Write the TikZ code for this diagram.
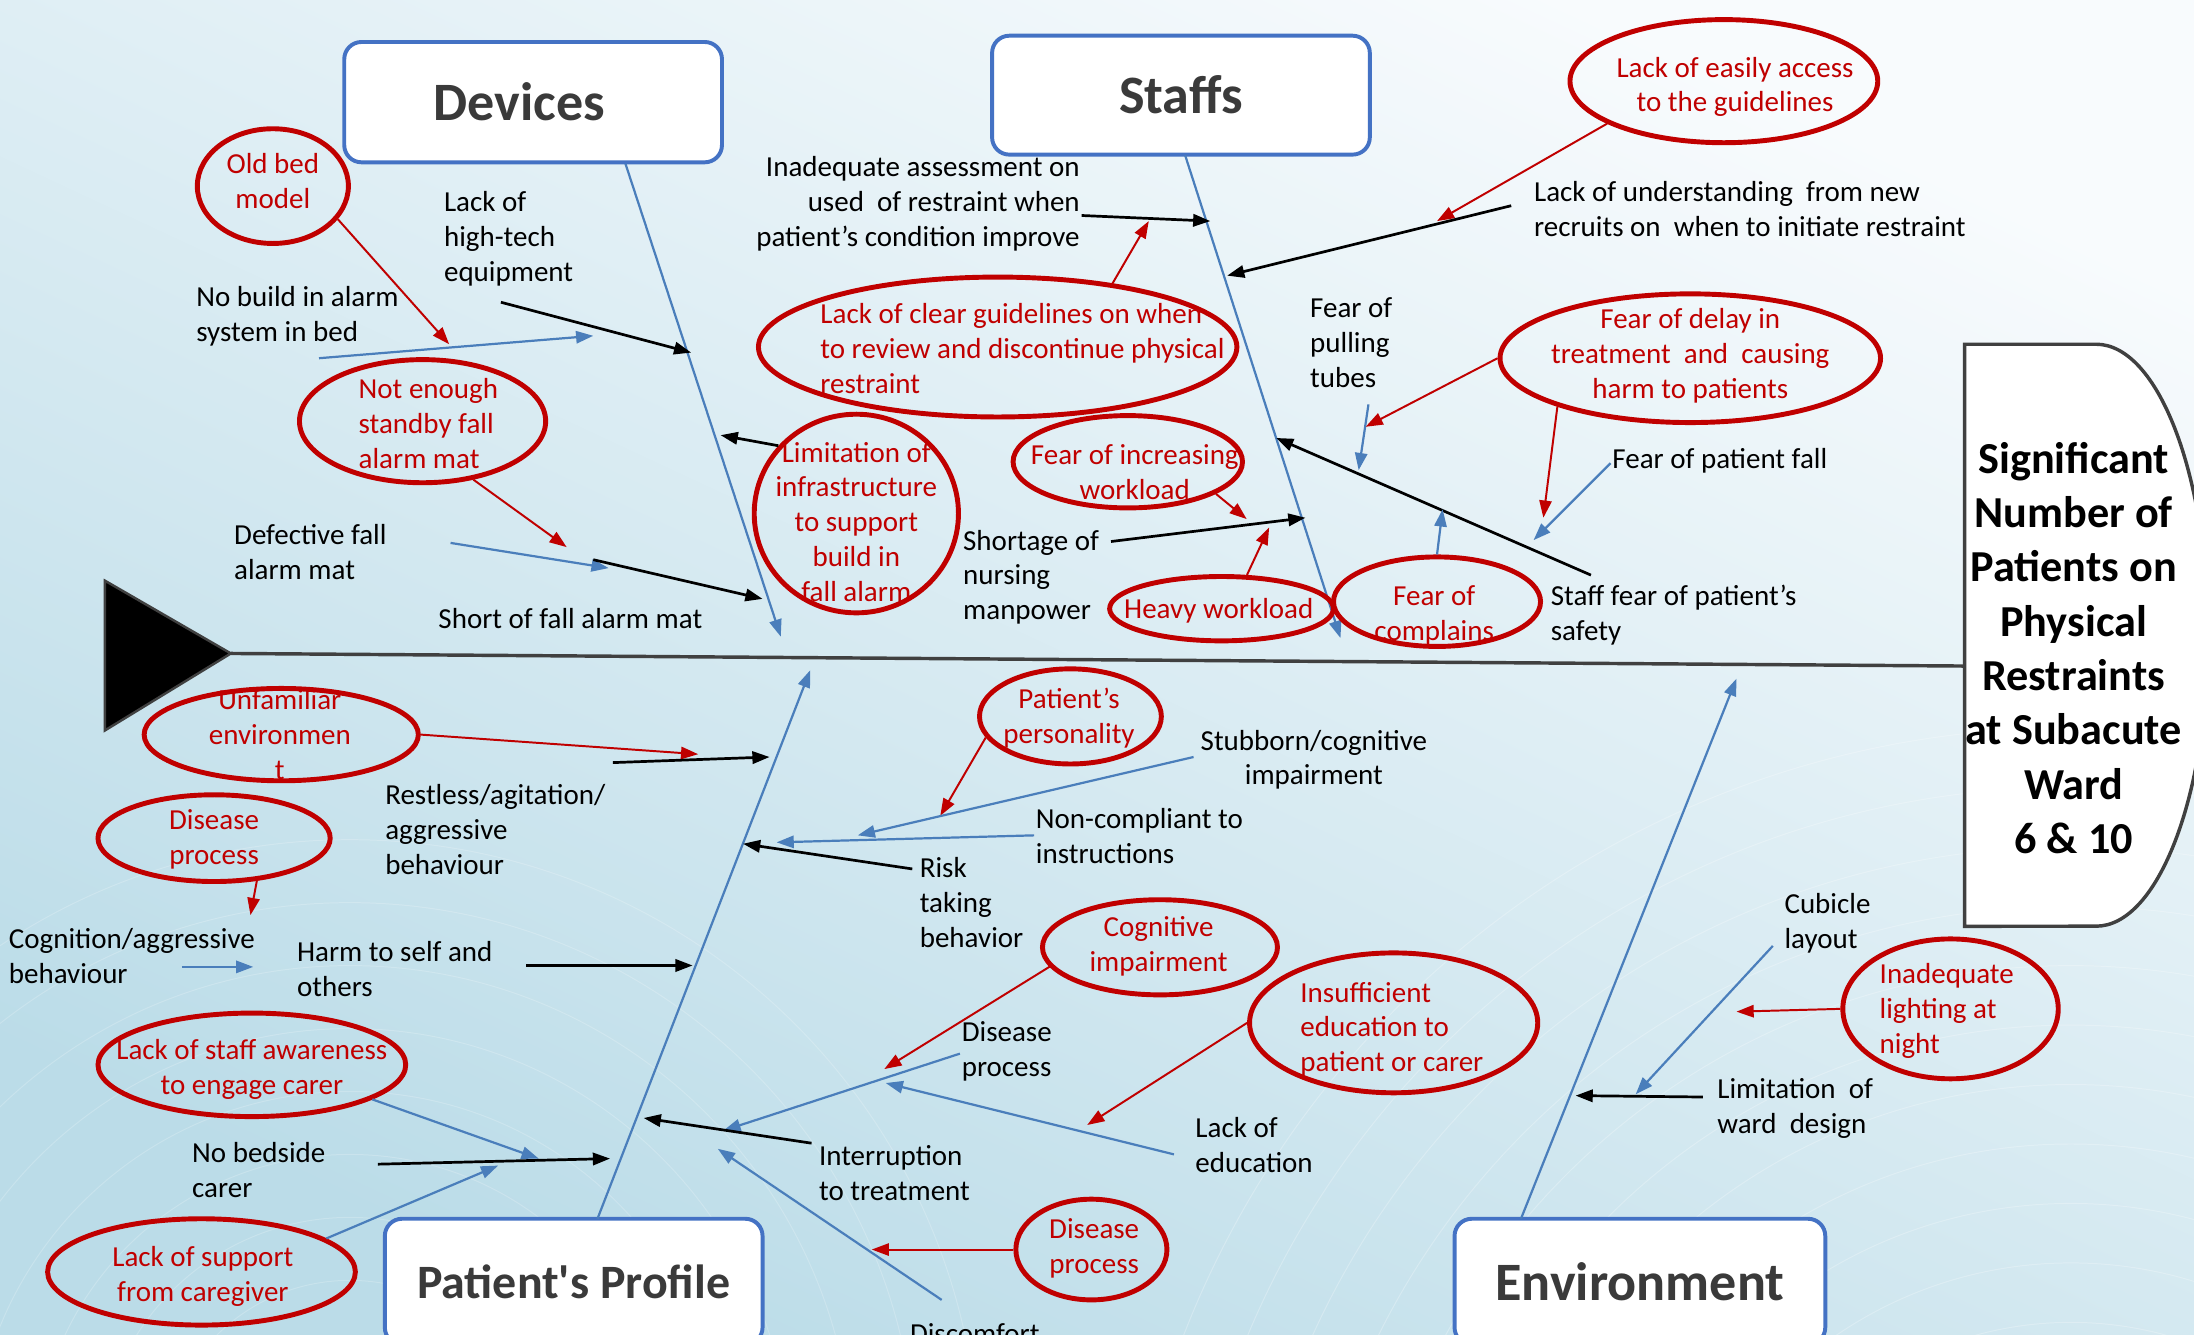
\documentclass[tikz,border=0pt]{standalone}
\usepackage{fontspec}
\setmainfont{Carlito}
\usetikzlibrary{arrows.meta,shapes.geometric}

\definecolor{ishred}{HTML}{C00000}
\definecolor{boneblue}{HTML}{4A7EBB}
\definecolor{boxblue}{HTML}{4472C4}
\definecolor{spinegray}{HTML}{404040}
\definecolor{catgray}{HTML}{3A3A3A}
\definecolor{bgtop}{HTML}{F8FBFD}
\definecolor{bgbot}{HTML}{BBDCE8}

\tikzset{
  txt/.style={font=\fontsize{11.8}{14.2}\selectfont, inner sep=0pt},
  cause/.style={txt, align=left, anchor=base west},
  note/.style={txt, text=ishred, align=center, anchor=base},
  noteL/.style={txt, text=ishred, align=left, anchor=base west},
  bubble/.style={ellipse, draw=ishred, line width=2pt, inner sep=0pt},
  catbox/.style={draw=boxblue, line width=1.6pt, rounded corners=7pt, fill=white,
    minimum height=1.72cm, font=\fontsize{22}{26}\selectfont\bfseries, text=catgray},
  tip/.style={-{Triangle[length=7pt,width=5pt]}},
  bone/.style={tip, boneblue, line width=0.9pt},
  blk/.style={tip, black, line width=1.1pt},
  blu/.style={tip, boneblue, line width=0.9pt},
  rd/.style={tip, ishred, line width=0.8pt},
}

\begin{document}
\begin{tikzpicture}[x=0.02cm, y=-0.02cm]
  \useasboundingbox (0,0) rectangle (1568,954);
  \clip (0,0) rectangle (1568,954);
  % background
  \shade[top color=bgtop, bottom color=bgbot, shading angle=-25] (0,0) rectangle (1568,954);
  \foreach \r in {1,...,16}
    \draw[white, opacity=0.25, line width=0.4pt] (1480,1200) circle[radius=\r*0.85cm];
  \foreach \r in {1,...,10}
    \draw[white, opacity=0.2, line width=0.4pt] (250,1050) circle[radius=\r*0.9cm];

  % head, tail and spine
  \coordinate (tail) at (165,467);
  \coordinate (effect) at (1404,476);
  \draw[spinegray, line width=1.4pt] (tail) -- (effect);
  \filldraw[fill=black, draw=spinegray, line width=1pt] (75,415) -- (tail) -- (75,522) -- cycle;
  \filldraw[fill=white, draw=spinegray, line width=1.4pt]
    (1404,662) -- (1404,246) -- (1498,246)
    arc[start angle=90, end angle=-90, x radius=1.6cm, y radius=4.16cm] -- cycle;
  \node[font=\fontsize{18}{22.1}\selectfont\bfseries, align=center, anchor=base, inner sep=0pt]
    (effecttxt) at (1482,610) {Significant\\Number of\\Patients on\\Physical\\Restraints\\at Subacute\\Ward\\6 \& 10};

  % categories
  \node[catbox, minimum width=5.4cm] (devices) at (381,73) {\kern-0.4cm Devices};
  \node[catbox, minimum width=5.4cm, minimum height=1.7cm] (staffs) at (844,68) {\raisebox{-0.1cm}{Staffs}};
  \node[catbox, minimum width=5.4cm, minimum height=1.8cm, font=\fontsize{19.5}{23}\selectfont\bfseries]
    (profile) at (410,916) {Patient\textquotesingle s Profile};
  \node[catbox, minimum width=5.3cm, minimum height=1.8cm] (environment) at (1172,916) {Environment};

  % bones
  \coordinate (dvA) at (447,117);   \coordinate (dvB) at (558,455);
  \coordinate (stA) at (847,111);   \coordinate (stB) at (958,456);
  \coordinate (ppA) at (427,871);   \coordinate (ppB) at (579,479);
  \coordinate (enA) at (1087,871);  \coordinate (enB) at (1241,485);
  \draw[bone] (dvA) -- (dvB);
  \draw[bone] (stA) -- (stB);
  \draw[bone] (ppA) -- (ppB);
  \draw[bone] (enA) -- (enB);

  % red bubbles
  \node[bubble, minimum width=2.16cm, minimum height=1.64cm] (oldbed) at (195,133) {};
  \node[bubble, minimum width=3.52cm, minimum height=1.76cm] (standby) at (302,301) {};
  \node[bubble, minimum width=2.92cm, minimum height=2.84cm] (infra) at (612,367) {};
  \node[bubble, minimum width=6.84cm, minimum height=2.0cm] (clearg) at (713,248) {};
  \node[bubble, minimum width=4.4cm, minimum height=1.76cm] (easily) at (1232,58) {};
  \node[bubble, minimum width=5.44cm, minimum height=1.84cm] (delay) at (1208,256) {};
  \node[bubble, minimum width=2.96cm, minimum height=1.28cm] (complains) at (1027,430) {};
  \node[bubble, minimum width=3.28cm, minimum height=1.32cm] (increasing) at (806,330) {};
  \node[bubble, minimum width=3.2cm, minimum height=0.92cm] (heavy) at (873,435) {};
  \node[bubble, minimum width=3.92cm, minimum height=1.32cm] (unfam) at (201,525) {};
  \node[bubble, minimum width=3.32cm, minimum height=1.24cm] (dis1) at (153,599) {};
  \node[bubble, minimum width=4.4cm, minimum height=1.48cm] (aware) at (180,761) {};
  \node[bubble, minimum width=4.4cm, minimum height=1.52cm] (support) at (144,909) {};
  \node[bubble, minimum width=2.6cm, minimum height=1.36cm] (person) at (765,512) {};
  \node[bubble, minimum width=3.36cm, minimum height=1.36cm] (cognit) at (829,677) {};
  \node[bubble, minimum width=4.12cm, minimum height=2.0cm] (insuff) at (996,731) {};
  \node[bubble, minimum width=2.16cm, minimum height=1.44cm] (dis3) at (780,893) {};
  \node[bubble, minimum width=3.08cm, minimum height=2.0cm] (light) at (1394,721) {};

  % arrow ends
  \coordinate (oldbedT) at (321,246);
  \coordinate (nobuildS) at (228,256);   \coordinate (nobuildT) at (424,240);
  \coordinate (hightechS) at (358,216);  \coordinate (hightechT) at (494,252);
  \coordinate (standbyT) at (405,391);
  \coordinate (defectS) at (322,388);    \coordinate (defectT) at (435,406);
  \coordinate (shortS) at (424,400);     \coordinate (shortT) at (545,428);
  \coordinate (infraT) at (515,311);
  \coordinate (inadS) at (773,154);      \coordinate (inadT) at (865,158);
  \coordinate (cleargT) at (821,158);
  \coordinate (easilyT) at (1027,158);
  \coordinate (newrecS) at (1080,147);   \coordinate (newrecT) at (877,197);
  \coordinate (tubesS) at (978,289);     \coordinate (tubesT) at (971,336);
  \coordinate (delayT) at (976,305);     \coordinate (delayU) at (1103,370);
  \coordinate (pfallS) at (1151,331);    \coordinate (pfallT) at (1096,386);
  \coordinate (safetyS) at (1137,411);   \coordinate (safetyT) at (912,313);
  \coordinate (complT) at (1031,364);
  \coordinate (incrT) at (891,371);
  \coordinate (shortageS) at (794,387);  \coordinate (shortageT) at (933,370);
  \coordinate (heavyT) at (907,377);
  \coordinate (unfamT) at (499,539);
  \coordinate (restS) at (438,545);      \coordinate (restT) at (550,541);
  \coordinate (dis1T) at (179,654);
  \coordinate (cogS) at (130,691);       \coordinate (cogT) at (181,691);
  \coordinate (harmS) at (376,690);      \coordinate (harmT) at (495,690);
  \coordinate (awareT) at (385,828);
  \coordinate (bedsideS) at (270,832);   \coordinate (bedsideT) at (436,828);
  \coordinate (supportT) at (356,833);
  \coordinate (personT) at (672,583);
  \coordinate (stubS) at (853,541);      \coordinate (stubT) at (613,597);
  \coordinate (noncS) at (739,597);      \coordinate (noncT) at (555,602);
  \coordinate (riskS) at (652,621);      \coordinate (riskT) at (531,603);
  \coordinate (cognitT) at (632,764);
  \coordinate (dis2S) at (686,753);      \coordinate (dis2T) at (517,808);
  \coordinate (insuffT) at (777,804);
  \coordinate (educS) at (839,825);      \coordinate (educT) at (633,774);
  \coordinate (interS) at (580,817);     \coordinate (interT) at (460,799);
  \coordinate (discS) at (673,929);      \coordinate (discT) at (513,821);
  \coordinate (dis3T) at (623,893);
  \coordinate (cubS) at (1267,676);      \coordinate (cubT) at (1169,782);
  \coordinate (lightT) at (1241,723);
  \coordinate (wardS) at (1217,784);     \coordinate (wardT) at (1126,783);

  % devices
  \draw[rd] (oldbed.-27) -- (oldbedT);
  \draw[blu] (nobuildS) -- (nobuildT);
  \draw[blk] (hightechS) -- (hightechT);
  \draw[rd] (standby.-49) -- (standbyT);
  \draw[blu] (defectS) -- (defectT);
  \draw[blk] (shortS) -- (shortT);
  \draw[blk] (infra.139) -- (infraT);
  % staffs
  \draw[blk] (inadS) -- (inadT);
  \draw[rd] (clearg.29) -- (cleargT);
  \draw[rd] (easily.-160) -- (easilyT);
  \draw[blk] (newrecS) -- (newrecT);
  \draw[blu] (tubesS) -- (tubesT);
  \draw[rd] (delay.180) -- (delayT);
  \draw[rd] (delay.-160) -- (delayU);
  \draw[blu] (pfallS) -- (pfallT);
  \draw[blk] (safetyS) -- (safetyT);
  \draw[blu] (complains.90) -- (complT);
  \draw[rd] (increasing.-20) -- (incrT);
  \draw[blk] (shortageS) -- (shortageT);
  \draw[rd] (heavy.53) -- (heavyT);
  % patient's profile
  \draw[rd] (unfam.0) -- (unfamT);
  \draw[blk] (restS) -- (restT);
  \draw[rd] (dis1.-45) -- (dis1T);
  \draw[blu] (cogS) -- (cogT);
  \draw[blk] (harmS) -- (harmT);
  \draw[blu] (aware.-16) -- (awareT);
  \draw[blk] (bedsideS) -- (bedsideT);
  \draw[blu] (support.15) -- (supportT);
  \draw[rd] (person.-166) -- (personT);
  \draw[blu] (stubS) -- (stubT);
  \draw[blu] (noncS) -- (noncT);
  \draw[blk] (riskS) -- (riskT);
  \draw[rd] (cognit.-170) -- (cognitT);
  \draw[blu] (dis2S) -- (dis2T);
  \draw[rd] (insuff.180) -- (insuffT);
  \draw[blu] (educS) -- (educT);
  \draw[blk] (interS) -- (interT);
  \draw[blu] (discS) -- (discT);
  \draw[rd] (dis3.180) -- (dis3T);
  % environment
  \draw[blu] (cubS) -- (cubT);
  \draw[rd] (light.180) -- (lightT);
  \draw[blk] (wardS) -- (wardT);

  % texts (placed at the baseline of their last line)
  \node[cause] (hightech) at (317,201) {Lack of\\high-tech\\equipment};
  \node[cause] (nobuild) at (140,244) {No build in alarm\\system in bed};
  \node[cause] (defect) at (167,414) {Defective fall\\alarm mat};
  \node[cause] (shortmat) at (313,449) {Short of fall alarm mat};
  \node[note] (oldbedtx) at (195,149) {Old bed\\model};
  \node[noteL] (standbytx) at (256,335) {Not enough\\standby fall\\alarm mat};
  \node[note] (infratx) at (612,430) {Limitation of\\infrastructure\\to support\\build in\\fall alarm};

  \node[cause, align=right, anchor=base east] (inadequate) at (772,176)
    {Inadequate assessment on\\used\ \ of restraint when\\patient's condition improve};
  \node[noteL] (cleargtx) at (586,281) {Lack of clear guidelines on when\\to review and discontinue physical\\restraint};
  \node[note] (easilytx) at (1240,80) {Lack of easily access\\to the guidelines};
  \node[cause] (newrecruit) at (1096,169) {Lack of understanding\ \ from new\\recruits on\ \ when to initiate restraint};
  \node[cause] (tubes) at (936,277) {Fear of\\pulling\\tubes};
  \node[note] (delaytx) at (1208,285) {Fear of delay in\\treatment\ \ and\ \ causing\\harm to patients};
  \node[cause] (patfall) at (1152,335) {Fear of patient fall};
  \node[cause] (safety) at (1108,458) {Staff fear of patient's\\safety};
  \node[note] (complaintx) at (1025,458) {Fear of\\complains};
  \node[note] (increasetx) at (811,357) {Fear of increasing\\workload};
  \node[cause] (shortage) at (688,443) {Shortage of\\nursing\\manpower};
  \node[note] (heavytx) at (871,442) {Heavy workload};

  \node[note] (unfamtx) at (200,557) {Unfamiliar\\environmen\\t};
  \node[cause] (restless) at (275,625) {Restless/agitation/\\aggressive\\behaviour};
  \node[note] (dis1tx) at (153,618) {Disease\\process};
  \node[cause] (cognition) at (6,703) {Cognition/aggressive\\behaviour};
  \node[cause] (harm) at (212,712) {Harm to self and\\others};
  \node[note] (awaretx) at (180,782) {Lack of staff awareness\\to engage carer};
  \node[cause] (bedside) at (137,856) {No bedside\\carer};
  \node[note] (supporttx) at (145,930) {Lack of support\\from caregiver};
  \node[note] (persontx) at (764,531) {Patient's\\personality};
  \node[cause, align=center, anchor=base] (stubborn) at (939,561) {Stubborn/cognitive\\impairment};
  \node[cause] (noncompl) at (740,617) {Non-compliant to\\instructions};
  \node[cause] (risk) at (657,677) {Risk\\taking\\behavior};
  \node[note] (cognittx) at (828,694) {Cognitive\\impairment};
  \node[cause] (disease2) at (687,769) {Disease\\process};
  \node[noteL] (insufftx) at (929,766) {Insufficient\\education to\\patient or carer};
  \node[cause] (education) at (854,838) {Lack of\\education};
  \node[cause] (interrupt) at (585,858) {Interruption\\to treatment};
  \node[note] (dis3tx) at (782,910) {Disease\\process};
  \node[cause] (discomfort) at (650,960) {Discomfort};

  \node[cause] (cubicle) at (1275,678) {Cubicle\\layout};
  \node[noteL] (lighttx) at (1343,753) {Inadequate\\lighting at\\night};
  \node[cause] (warddesign) at (1227,810) {Limitation\ \ of\\ward\ \ design};
\end{tikzpicture}
\end{document}
